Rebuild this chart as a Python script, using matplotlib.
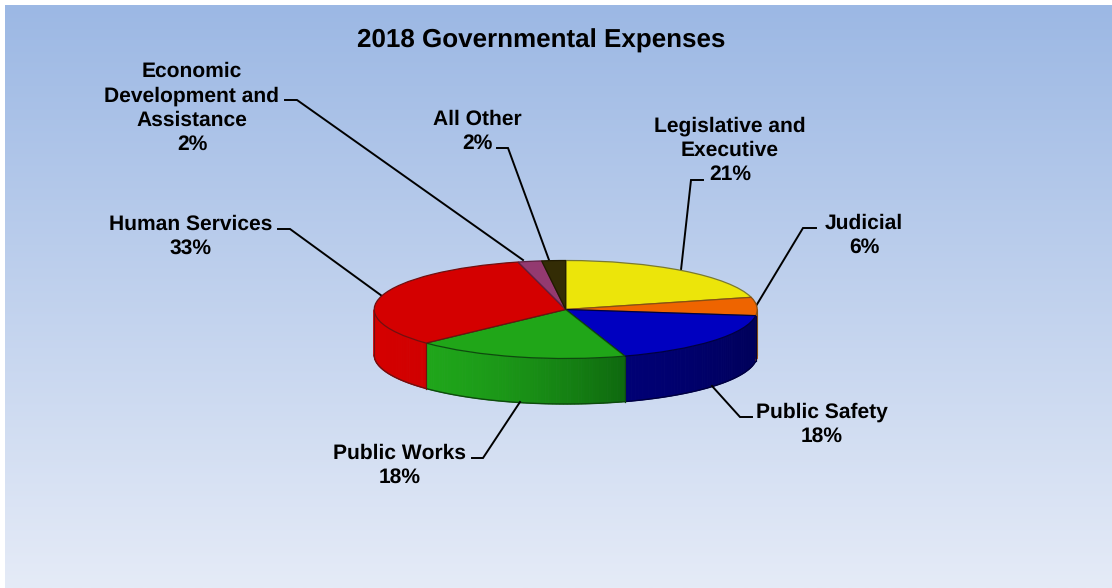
import numpy as np
import matplotlib
matplotlib.use("Agg")
import matplotlib.pyplot as plt
from matplotlib.patches import Polygon
from matplotlib.transforms import Affine2D
from matplotlib.colors import to_rgb

categories = ["Legislative and\nExecutive", "Judicial", "Public Safety", "Public Works",
              "Human Services", "Economic\nDevelopment and\nAssistance", "All Other"]
values = [21, 6, 18, 18, 33, 2, 2]
top_colors = ["#ece50a", "#ee6400", "#0000c0", "#20a618", "#d40000", "#933a70", "#332c05"]
wall_left = ["#ece50a", "#c85400", "#000074", "#1fa51a", "#d40000", "#933a70", "#332c05"]
wall_right = ["#ece50a", "#c85400", "#00005a", "#0e680e", "#d00000", "#933a70", "#332c05"]
edge_colors = ["#7a7a30", "#8a5010", "#000040", "#0e4a0e", "#701010", "#602040", "#201a00"]
title = "2018 Governmental Expenses"

W, H = 1112, 588
plt.rcParams["font.family"] = ["Liberation Sans", "DejaVu Sans"]
plt.rcParams["text.hinting"] = "no_hinting"
plt.rcParams["text.hinting_factor"] = 1
fig = plt.figure(figsize=(W / 100, H / 100), dpi=100, facecolor="white")
ax = fig.add_axes([0, 0, 1, 1])


def py(y):
    return H - y


# pie geometry (pixels)
cx, cy, rx, ry, depth = 565.7, 309.5, 191.5, 49.0, 45.5

wedges, _ = ax.pie(values, startangle=90, counterclock=False, colors=top_colors)
ax.set_aspect("auto")
ax.set_xlim(0, W)
ax.set_ylim(0, H)
ax.axis("off")

# background gradient
grad = np.linspace(0, 1, 256)[:, None]
c0, c1 = np.array(to_rgb("#9cb8e4")), np.array(to_rgb("#e5ebf7"))
img = (c0[None, :] * (1 - grad) + c1[None, :] * grad).reshape(256, 1, 3)
ax.imshow(img, extent=(5, W, 0, H - 5), aspect="auto", zorder=0, interpolation="bilinear")
ax.set_xlim(0, W)
ax.set_ylim(0, H)

# squash the pie into an ellipse, raised above the walls
squash = Affine2D().scale(rx, ry).translate(cx, py(cy)) + ax.transData
for w, ec in zip(wedges, edge_colors):
    w.set_transform(squash)
    w.set_edgecolor(ec)
    w.set_linewidth(0.9)
    w.set_zorder(6)


def pt(a, dy=0.0):
    return cx + rx * np.cos(a), py(cy + ry * np.sin(-a) + dy)


# walls of the slices in the front half
shares = np.cumsum([0] + values) / sum(values)
for i in range(len(values)):
    a0 = np.pi / 2 - 2 * np.pi * shares[i]
    a1 = np.pi / 2 - 2 * np.pi * shares[i + 1]
    lo, hi = max(a1, -np.pi), min(a0, 0.0)
    if hi <= lo:
        continue
    edges = np.linspace(lo, hi, 60)
    cl, cr = np.array(to_rgb(wall_left[i])), np.array(to_rgb(wall_right[i]))
    for j in range(len(edges) - 1):
        t = (np.cos(edges[j]) - np.cos(lo)) / max(np.cos(hi) - np.cos(lo), 1e-6)
        t = t ** 1.5
        col = cl * (1 - t) + cr * t
        p = [pt(edges[j]), pt(edges[j + 1]), pt(edges[j + 1], depth), pt(edges[j], depth)]
        ax.add_patch(Polygon(p, closed=True, facecolor=col, edgecolor=col, linewidth=0.7, zorder=3))
    arc = np.linspace(lo, hi, 60)
    xs, ys = zip(*[pt(a, depth) for a in arc])
    ax.plot(xs, ys, color=edge_colors[i], lw=1.0, zorder=4, solid_capstyle="round")
    for a in (lo, hi):
        xa, ya = zip(pt(a), pt(a, depth))
        ax.plot(xa, ya, color=edge_colors[i], lw=0.8, zorder=4)

# text
ax.text(541, py(41), title, fontsize=18.45, fontweight="bold", ha="center", va="center", color="black", zorder=10)

pct = [f"{v}%" for v in values]
label_pos = [(730, 150.5), (864, 235.5), (822, 424.5), (399.5, 465), (190.5, 236), (192, 108), (477, 131)]
for name, p, (lx, ly) in zip(categories, pct, label_pos):
    ax.text(lx, py(ly), f"{name}\n{p}", fontsize=15.1, fontweight="bold", ha="center", va="center",
            linespacing=1.3, color="black", zorder=10)

# leader lines: label anchor, elbow, point on the pie rim
leaders = [
    [(703, 180), (691, 180), (681, 270)],
    [(816, 228), (803, 228), (756, 306)],
    [(752, 417), (740, 417), (712, 386)],
    [(472, 458), (483, 458), (520, 402)],
    [(278, 229), (290, 229), (382, 296)],
    [(285, 100), (297, 100), (523, 260)],
    [(497, 148), (508, 148), (549, 260)],
]
for line in leaders:
    xs, ys = zip(*line)
    ax.plot(xs, [py(y) for y in ys], color="black", lw=1.4, zorder=5, solid_joinstyle="miter")

fig.savefig("out.png", dpi=100, facecolor="white")
